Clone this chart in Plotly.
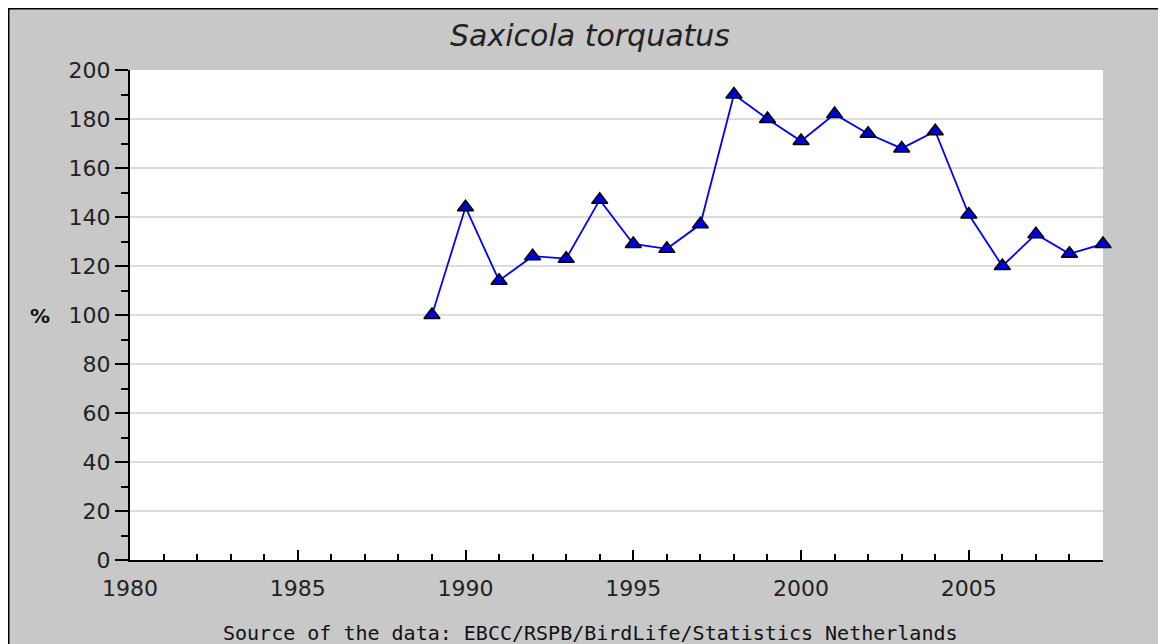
import plotly.graph_objects as go

years = list(range(1989, 2010))
values = [100, 144, 114, 124, 123, 147, 129, 127, 137, 190, 180, 171, 182, 174, 168, 175, 141, 120, 133, 125, 129]
title_text = "Saxicola torquatus"
source_text = "Source of the data: EBCC/RSPB/BirdLife/Statistics Netherlands"
x_ticks = [1980, 1985, 1990, 1995, 2000, 2005]
y_ticks = [0, 20, 40, 60, 80, 100, 120, 140, 160, 180, 200]

# page has an 8px body margin, so the figure starts at (8, 8); it is made a bit
# larger than the window so the grey background reaches the right/bottom edges
OFF = 8
W, H = 1166, 644
L, R, T, B = 130 - OFF, (W + OFF) - 1103, 70 - OFF, (H + OFF) - 560
pw, ph = W - L - R, H - T - B

fig = go.Figure()
fig.add_trace(go.Scatter(
    x=years, y=values, mode="lines+markers",
    line=dict(color="#0000ff", width=1.8),
    marker=dict(symbol="triangle-up", size=14, color="#0000dd",
                line=dict(color="#000000", width=1.5)),
    cliponaxis=False, showlegend=False,
))

tickfont = dict(family="DejaVu Sans", size=22, color="#222222")
fig.update_layout(
    width=W, height=H,
    margin=dict(l=L, r=R, t=T, b=B),
    paper_bgcolor="#c8c8c8", plot_bgcolor="#ffffff",
    title=dict(text="<i>" + title_text + "</i>", x=(590 - OFF) / W, xref="container",
               y=1 - (35 - OFF) / H, yref="container", xanchor="center", yanchor="middle",
               font=dict(family="DejaVu Sans", size=30, color="#222222")),
    xaxis=dict(range=[1980, 2009], tickvals=x_ticks, ticks="inside", ticklen=10,
               tickwidth=2, tickcolor="#000000", showline=True, linecolor="#000000",
               linewidth=2, showgrid=False, zeroline=False, tickfont=tickfont,
               ticklabelstandoff=8,
               minor=dict(dtick=1, ticks="inside", ticklen=6, tickwidth=2,
                          tickcolor="#000000", showgrid=False)),
    yaxis=dict(range=[0, 200], tickvals=y_ticks, ticks="outside", ticklen=13,
               tickwidth=2, tickcolor="#000000", showline=True, linecolor="#000000",
               linewidth=2, showgrid=True, gridcolor="#dcdcdc", gridwidth=1.5,
               zeroline=False, tickfont=tickfont, ticklabelstandoff=0,
               minor=dict(dtick=10, ticks="outside", ticklen=7, tickwidth=2,
                          tickcolor="#000000", showgrid=False)),
)

# "%" axis label
fig.add_annotation(text="<b>%</b>", xref="paper", yref="paper",
                   x=(40 - 130) / pw, y=(560 - 316) / ph, showarrow=False,
                   font=dict(family="DejaVu Sans", size=20, color="#111111"),
                   xanchor="center", yanchor="middle")
# source annotation
fig.add_annotation(text=source_text, xref="paper", yref="paper",
                   x=(590 - 130) / pw, y=-(633 - 560) / ph, showarrow=False,
                   font=dict(family="DejaVu Sans Mono", size=20, color="#111111"),
                   xanchor="center", yanchor="middle")

# outer frame: top and left edges
bx = -L / pw
by = 1 + T / ph
fig.add_shape(type="line", xref="paper", yref="paper", x0=bx, x1=2, y0=by, y1=by,
              line=dict(color="#000000", width=3))
fig.add_shape(type="line", xref="paper", yref="paper", x0=bx, x1=bx, y0=by, y1=-2,
              line=dict(color="#000000", width=3))

fig.write_html("out.html", post_script="document.body.style.overflow='hidden';")
